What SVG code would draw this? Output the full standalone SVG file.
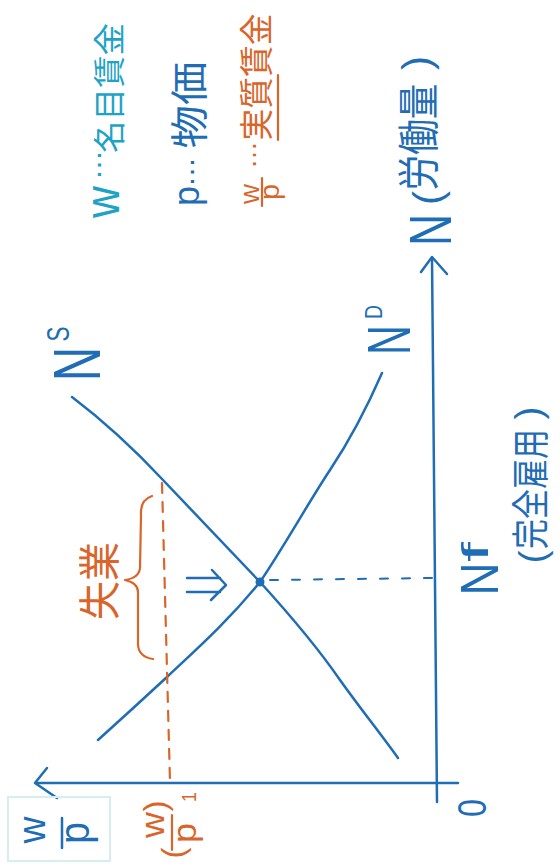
<svg xmlns="http://www.w3.org/2000/svg" width="560" height="866" viewBox="0 0 560 866">
<style>
text{text-anchor:middle;dominant-baseline:central;font-family:"Liberation Sans","Noto Sans CJK JP",sans-serif}
.jp{font-family:"Noto Sans CJK JP","Liberation Sans",sans-serif}
.b{fill:#1f6db5}
.t{fill:#1ea3c6}
.o{fill:#d9652a}
.ln{fill:none;stroke:#1f6db5;stroke-width:2.5;stroke-linecap:round;stroke-linejoin:round}
.lo{fill:none;stroke:#d9652a;stroke-width:2.2;stroke-linecap:round;stroke-linejoin:round}
</style>
<rect width="560" height="866" fill="#ffffff"/>
<g id="connectors">
  <path class="ln" d="M437,802 L432,258"/>
  <path class="ln" d="M421,272 L432,257 L447,274"/>
  <path class="ln" d="M458,783 L36,783"/>
  <path class="ln" d="M47,768 L35,783 L57,798"/>
  <path id="NS" class="ln" d="M72,397 C105,422 135,450 163,480 L260,582 C290,615 318,648 340,680 C360,708 380,733 398,758"/>
  <path id="ND" class="ln" d="M382,373 C365,412 350,440 330,470 C310,500 285,545 260,582 C225,625 190,655 167,677 C140,702 118,722 98,740"/>
  <path class="ln" style="stroke-width:2" stroke-dasharray="8 14" d="M270,580 L434,578"/>
  <path class="lo" stroke-dasharray="10 9" d="M162,483 L170,782"/>
  <path class="lo" d="M152,496 Q140,500 141,515 L140,568 Q139,578 125,580 Q138,583 138,592 L138,645 Q139,657 153,659"/>
  <path class="ln" d="M187,578 L220,578 M187,592 L220,592 M212,570 L226,585 L211,600"/>
  <circle cx="260" cy="582" r="4.5" fill="#1f6db5"/>
</g>
<g id="legend-w" class="t">
  <text transform="translate(102,202) rotate(-90)" font-size="48" textLength="32" lengthAdjust="spacingAndGlyphs">w</text>
  <text transform="translate(90,165) rotate(-90)" font-size="30">…</text>
  <text class="jp" transform="translate(107,88) rotate(-90)" font-size="32" textLength="130" lengthAdjust="spacingAndGlyphs">名目賃金</text>
</g>
<g id="legend-p" class="b">
  <text transform="translate(186,196) rotate(-90)" font-size="37" textLength="20" lengthAdjust="spacingAndGlyphs">p</text>
  <text transform="translate(183,172) rotate(-90)" font-size="30">…</text>
  <text class="jp" transform="translate(186,105) rotate(-90)" font-size="38" textLength="87" lengthAdjust="spacingAndGlyphs">物価</text>
</g>
<g id="legend-wp" class="o">
  <text transform="translate(249,194) rotate(-90)" font-size="28" textLength="20" lengthAdjust="spacingAndGlyphs">w</text>
  <path class="lo" d="M262,178 L262,206"/>
  <text transform="translate(269,192) rotate(-90)" font-size="28" textLength="16" lengthAdjust="spacingAndGlyphs">p</text>
  <text transform="translate(246,155) rotate(-90)" font-size="28">…</text>
  <text class="jp" transform="translate(254,77) rotate(-90)" font-size="34" textLength="127" lengthAdjust="spacingAndGlyphs">実質賃金</text>
  <path class="lo" d="M278,75 L278,140"/>
</g>
<g id="axis-n-label" class="b">
  <text transform="translate(430,230) rotate(-90)" font-size="60" textLength="32" lengthAdjust="spacingAndGlyphs">N</text>
  <text transform="translate(428,198) rotate(-90)" font-size="40" textLength="14" lengthAdjust="spacingAndGlyphs">(</text>
  <text class="jp" transform="translate(415,137) rotate(-90)" font-size="42" textLength="107" lengthAdjust="spacingAndGlyphs">労働量</text>
  <text transform="translate(417,63) rotate(-90)" font-size="40" textLength="14" lengthAdjust="spacingAndGlyphs">)</text>
</g>
<g id="axis-wp-label" class="b">
  <rect x="8" y="797" width="102" height="64" fill="none" stroke="#d6efee" stroke-width="2"/>
  <text transform="translate(32,830) rotate(-90)" font-size="38" textLength="27" lengthAdjust="spacingAndGlyphs">w</text>
  <path class="ln" d="M62,818 L62,848"/>
  <text transform="translate(74,833) rotate(-90)" font-size="42" textLength="22" lengthAdjust="spacingAndGlyphs">p</text>
</g>
<g id="origin" class="b">
  <text transform="translate(472,808) rotate(-90)" font-size="40" textLength="18" lengthAdjust="spacingAndGlyphs">0</text>
</g>
<g id="label-ns" class="b">
  <text transform="translate(77,364) rotate(-90)" font-size="66" textLength="34" lengthAdjust="spacingAndGlyphs">N</text>
  <text transform="translate(58,334) rotate(-90)" font-size="32" textLength="15" lengthAdjust="spacingAndGlyphs">S</text>
</g>
<g id="label-nd" class="b">
  <text transform="translate(388,340) rotate(-90)" font-size="62" textLength="30" lengthAdjust="spacingAndGlyphs">N</text>
  <text transform="translate(373,312) rotate(-90)" font-size="24" textLength="14" lengthAdjust="spacingAndGlyphs">D</text>
</g>
<g id="label-nf" class="b">
  <text transform="translate(479,579) rotate(-90)" font-size="53" textLength="33" lengthAdjust="spacingAndGlyphs">N</text>
  <text transform="translate(475,552) rotate(-90)" font-size="36" textLength="20" lengthAdjust="spacingAndGlyphs">f</text>
  <text transform="translate(532,557) rotate(-90)" font-size="36" textLength="13" lengthAdjust="spacingAndGlyphs">(</text>
  <text class="jp" transform="translate(527,489) rotate(-90)" font-size="38" textLength="120" lengthAdjust="spacingAndGlyphs">完全雇用</text>
  <text transform="translate(528,413) rotate(-90)" font-size="36" textLength="13" lengthAdjust="spacingAndGlyphs">)</text>
</g>
<g id="label-wp1" class="o">
  <text transform="translate(173,853) rotate(-90)" font-size="32" textLength="11" lengthAdjust="spacingAndGlyphs">(</text>
  <text transform="translate(152,825) rotate(-90)" font-size="34" textLength="26" lengthAdjust="spacingAndGlyphs">w</text>
  <path class="lo" d="M172,815 L172,850"/>
  <text transform="translate(184,833) rotate(-90)" font-size="34" textLength="20" lengthAdjust="spacingAndGlyphs">p</text>
  <text transform="translate(155,806) rotate(-90)" font-size="32" textLength="11" lengthAdjust="spacingAndGlyphs">)</text>
  <text transform="translate(188,797) rotate(-90)" font-size="21" textLength="10" lengthAdjust="spacingAndGlyphs">1</text>
</g>
<g id="label-unemployment" class="o">
  <text class="jp" transform="translate(96,581) rotate(-90)" font-size="42" textLength="78" lengthAdjust="spacingAndGlyphs">失業</text>
</g>
</svg>
